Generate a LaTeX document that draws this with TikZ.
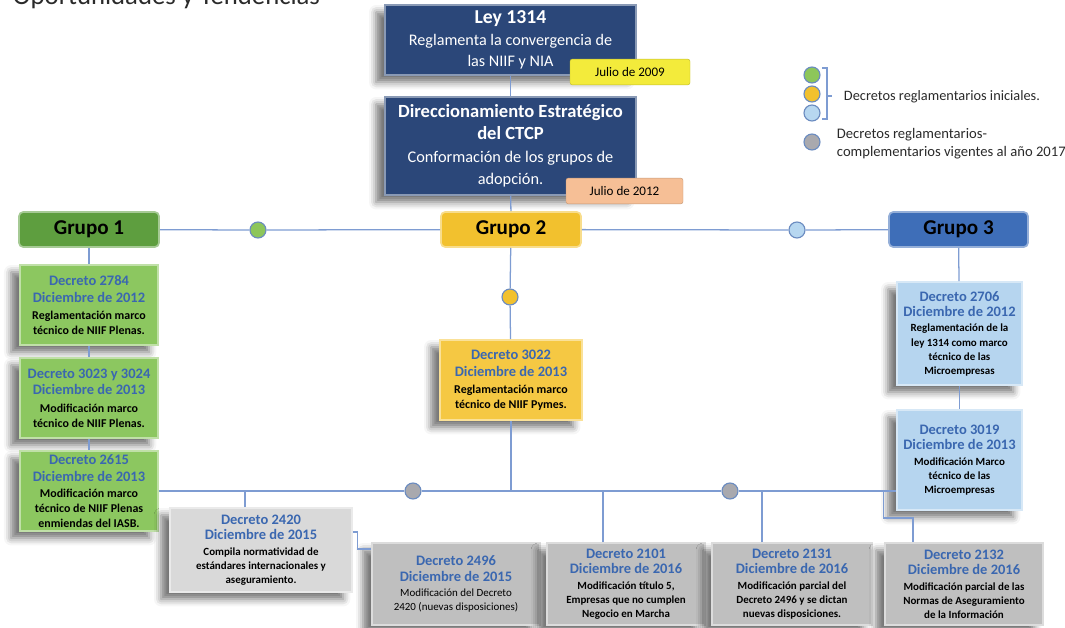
\documentclass[tikz,border=0pt]{standalone}
\usepackage{fontspec}
\setmainfont{Carlito}
\usetikzlibrary{shadows.blur}

\definecolor{navy}{HTML}{2B4779}
\definecolor{amarillo}{HTML}{F3EB3B}
\definecolor{durazno}{HTML}{F6BF96}
\definecolor{verdeg}{HTML}{5E9E3F}
\definecolor{verdec}{HTML}{8CC760}
\definecolor{oro}{HTML}{F2C12E}
\definecolor{oroc}{HTML}{F5C843}
\definecolor{azulg}{HTML}{3E6EB8}
\definecolor{azulc}{HTML}{B6D5EF}
\definecolor{grisc}{HTML}{D9D9D9}
\definecolor{grism}{HTML}{BFBFBF}
\definecolor{grisp}{HTML}{A9A9AE}
\definecolor{dblue}{HTML}{3A67B0}
\definecolor{lineb}{HTML}{7E9CD2}
\definecolor{circ}{HTML}{6A8BC0}
\definecolor{hverde}{HTML}{8DC65A}
\definecolor{hazul}{HTML}{B7D7F0}
\definecolor{texto}{HTML}{2A2A2A}

\newcommand{\dtit}[1]{{\fontsize{10.3}{12}\selectfont\color{dblue}#1}}

\begin{document}
\begin{tikzpicture}[x=0.25mm,y=-0.25mm,
  bevel/.style={draw=#1!55!white, fill=#1, line width=1.2pt},
  sombra/.style={blur shadow={shadow xshift=-2.2mm, shadow yshift=-1.8mm, shadow blur radius=1.8mm, shadow opacity=55}},
  darkbox/.style={bevel=navy, sombra, text=white, align=center, minimum width=62.75mm, inner sep=1pt},
  datetag/.style={fill=#1, rounded corners=1.5pt, draw=#1!80!black, line width=0.3pt, minimum height=6.4mm, font=\fontsize{9.3}{10}\selectfont},
  grupo/.style={bevel=#1, rounded corners=3pt, minimum height=8.75mm, minimum width=35mm, font=\fontsize{15}{17}\selectfont\bfseries},
  decbox/.style={bevel=#1, sombra, align=center, inner sep=1pt, font=\fontsize{7.8}{10}\selectfont\bfseries},
  grande/.style={font=\fontsize{8.5}{10.5}\selectfont\bfseries},
  hito/.style={circle, draw=circ, fill=#1, line width=0.8pt, minimum size=4mm, inner sep=0pt},
  conector/.style={draw=lineb, line width=0.9pt}
]
\useasboundingbox (0,0) rectangle (1065,628);

% title, cut by the page edge
\node[anchor=base west, text=texto, font=\fontsize{19}{22}\selectfont] (titulo) at (8,4) {Oportunidades y Tendencias};

% top boxes
\node[darkbox, minimum height=17.5mm, font=\fontsize{11.5}{15.5}\selectfont] (ley) at (510.5,40)
  {{\fontsize{14}{16}\selectfont\bfseries Ley 1314}\\Reglamenta la convergencia de\\las NIIF y NIA};
\node[darkbox, minimum height=24.5mm, font=\fontsize{11.6}{16}\selectfont] (dir) at (510.5,146)
  {{\fontsize{13.2}{16}\selectfont\bfseries Direccionamiento Estratégico}\\{\fontsize{13.2}{16}\selectfont\bfseries del CTCP}\\Conformación de los grupos de\\adopción.};
\node[datetag=amarillo, minimum width=30mm] (jul09) at (630,72) {Julio de 2009};
\node[datetag=durazno, minimum width=29.25mm] (jul12) at (624.5,191) {Julio de 2012};

% grupos
\node[grupo=verdeg] (g1) at (89,229.5) {Grupo 1};
\node[grupo=oro] (g2) at (511,229.5) {Grupo 2};
\node[grupo=azulg, minimum width=34.75mm] (g3) at (958.5,229.5) {Grupo 3};
\node[hito=hverde] (c1) at (258,230) {};
\node[hito=hazul] (c3) at (797,230) {};
\node[hito=oro] (c2) at (510,297) {};

% decretos
\node[decbox=verdec, grande, minimum width=34.5mm, minimum height=20mm] (d2784) at (89,305)
  {\dtit{Decreto 2784}\\[1.5pt]\dtit{Diciembre de 2012}\\[2pt]Reglamentación marco\\técnico de NIIF Plenas.};
\node[decbox=verdec, grande, minimum width=34.5mm, minimum height=20mm] (d3023) at (89,398)
  {\dtit{Decreto 3023 y 3024}\\[1.5pt]\dtit{Diciembre de 2013}\\[2pt]Modificación marco\\técnico de NIIF Plenas.};
\node[decbox=verdec, grande, minimum width=34.5mm, minimum height=20mm] (d2615) at (89,491)
  {\dtit{Decreto 2615}\\[1.5pt]\dtit{Diciembre de 2013}\\[1pt]Modificación marco\\técnico de NIIF Plenas\\enmiendas del IASB.};
\node[decbox=oroc, grande, minimum width=35.5mm, minimum height=20mm] (d3022) at (511,380)
  {\dtit{Decreto 3022}\\[1.5pt]\dtit{Diciembre de 2013}\\[2pt]Reglamentación marco\\técnico de NIIF Pymes.};
\node[decbox=azulc, minimum width=31.25mm, minimum height=25.75mm] (d2706) at (959.5,333.5)
  {\dtit{Decreto 2706}\\[1pt]\dtit{Diciembre de 2012}\\[1pt]Reglamentación de la\\ley 1314 como marco\\técnico de las\\Microempresas};
\node[decbox=azulc, minimum width=31.25mm, minimum height=25mm] (d3019) at (959.5,460)
  {\dtit{Decreto 3019}\\[1pt]\dtit{Diciembre de 2013}\\[1pt]Modificación Marco\\técnico de las\\Microempresas};
\node[decbox=grisc, minimum width=45.5mm, minimum height=21mm] (d2420) at (261,550)
  {\dtit{Decreto 2420}\\[1pt]\dtit{Diciembre de 2015}\\[1pt]Compila normatividad de\\estándares internacionales y\\aseguramiento.};
\node[decbox=grism, minimum width=42mm, minimum height=20.5mm, font=\fontsize{7.8}{10}\selectfont] (d2496) at (456,584)
  {\dtit{\bfseries Decreto 2496}\\[1pt]\dtit{\bfseries Diciembre de 2015}\\[1pt]Modificación del Decreto\\2420 (nuevas disposiciones)};
\node[decbox=grism, minimum width=39.5mm, minimum height=20.5mm] (d2101) at (626,584)
  {\dtit{Decreto 2101}\\[1pt]\dtit{Diciembre de 2016}\\[1pt]Modificación título 5,\\Empresas que no cumplen\\Negocio en Marcha};
\node[decbox=grism, minimum width=40mm, minimum height=20.5mm] (d2131) at (792,584)
  {\dtit{Decreto 2131}\\[1pt]\dtit{Diciembre de 2016}\\[1pt]Modificación parcial del\\Decreto 2496 y se dictan\\nuevas disposiciones.};
\node[decbox=grism, minimum width=39.5mm, minimum height=20.5mm] (d2132) at (964,584)
  {\dtit{Decreto 2132}\\[1pt]\dtit{Diciembre de 2016}\\[1pt]Modificación parcial de las\\Normas de Aseguramiento\\de la Información};
\node[hito=grisp] (k1) at (413,491) {};
\node[hito=grisp] (k2) at (730,491) {};
\coordinate (busR) at (d3019.west |- d2615.east);

% connectors
\draw[conector] (ley) -- (dir);
\draw[conector] (dir) -- (g2);
\draw[conector] (g1) -- (c1) -- (g2);
\draw[conector] (g2) -- (c3) -- (g3);
\draw[conector] (g2) -- (c2) -- (d3022);
\draw[conector] (g1) -- (d2784);
\draw[conector] (d2784) -- (d3023);
\draw[conector] (d3023) -- (d2615);
\draw[conector] (g3) -- (d2706);
\draw[conector] (d2706) -- (d3019);
\draw[conector] (d2615.east) -- (k1) -- (k2) -- (busR);
\draw[conector] (d3022) -- (d3022.south |- busR);
\draw[conector] ([xshift=-4mm]d2420.north) -- ([xshift=-4mm]d2420.north |- busR);
\draw[conector] ([xshift=-5.75mm]d2101.north) -- ([xshift=-5.75mm]d2101.north |- busR);
\draw[conector] ([xshift=-7.5mm]d2131.north) -- ([xshift=-7.5mm]d2131.north |- busR);
\draw[conector] ([xshift=-3.25mm]busR) -- ++(0,27) -| ([xshift=-12.75mm]d2132.north);
\draw[conector] ([yshift=4.5mm]d2420.east) -- ++(5,0) |- ([yshift=8.75mm]d2496.west);

% legend
\node[hito=hverde] (lg1) at (812,75) {};
\node[hito=oro] (lg2) at (812,94) {};
\node[hito=hazul] (lg3) at (812,113) {};
\node[hito=grisp] (lg4) at (812,142) {};
\draw[conector] (822,68) -- (827,68) -- (827,119) -- (822,119);
\draw[conector] (827,96) -- (832,96);
\node[anchor=west, text=texto, font=\fontsize{10.2}{11}\selectfont] (leg1) at (839,97) {Decretos reglamentarios iniciales.};
\node[anchor=west, text=texto, align=left, font=\fontsize{10.4}{13}\selectfont] (leg2) at (832,144)
  {Decretos reglamentarios-\\complementarios vigentes al año 2017};
\end{tikzpicture}
\end{document}
